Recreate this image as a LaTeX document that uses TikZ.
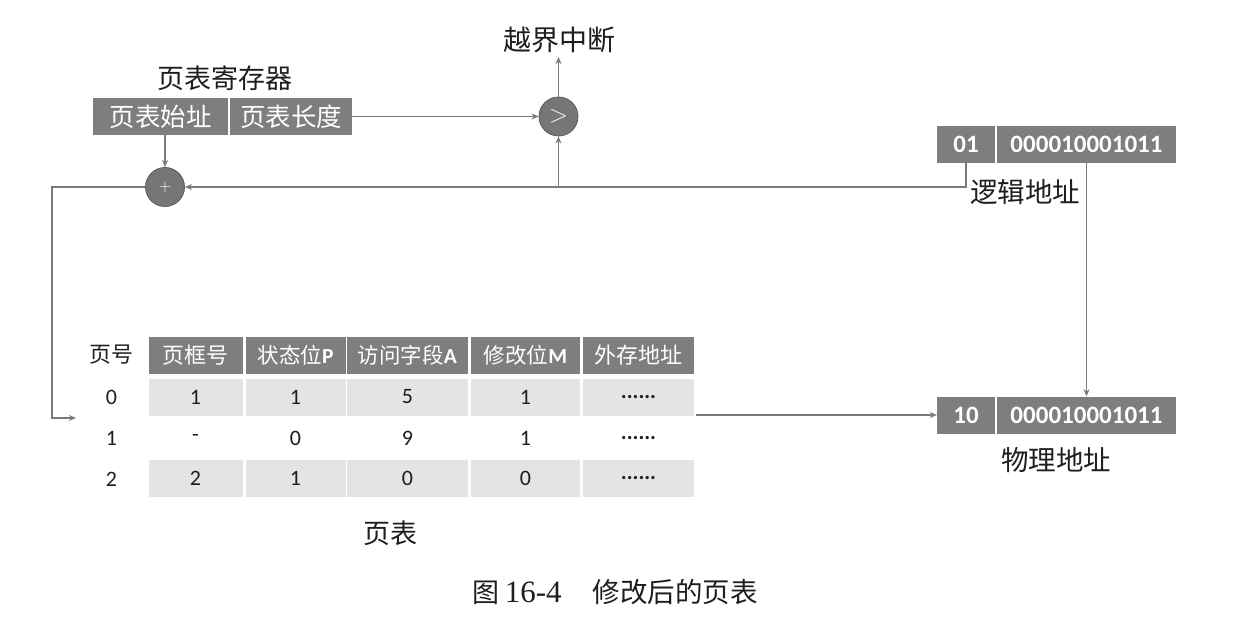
\documentclass[tikz,border=0pt]{standalone}
\usepackage{fontspec}
\setmainfont{Liberation Serif}
\newfontfamily\cjk{Noto Sans CJK SC}
\newfontfamily\calib{Carlito}
\usetikzlibrary{arrows.meta}
\definecolor{boxgray}{HTML}{7E7E7E}
\definecolor{cellgray}{HTML}{E4E4E4}
\definecolor{linegray}{HTML}{7A7A7A}
\definecolor{circgray}{HTML}{767676}
\definecolor{ink}{HTML}{1E1E1E}
\newcommand\cjkat[1]{\cjk\fontsize{#1}{#1}\selectfont}
\newcommand\calat[1]{\calib\fontsize{#1}{#1}\selectfont}
\begin{document}
\begin{tikzpicture}[x=1pt,y=-1pt,
  darkbox/.style={fill=boxgray, draw=none, text=white, minimum height=37pt, inner sep=0pt},
  hdrbox/.style={fill=boxgray, draw=none, text=white, minimum height=37pt, inner sep=0pt},
  cellbox/.style={fill=cellgray, draw=none, text=ink, minimum height=37pt, inner sep=0pt},
  plainbox/.style={draw=none, text=ink, minimum height=37pt, inner sep=0pt},
  opcirc/.style={circle, fill=circgray, draw=gray!70!black, line width=0.8pt, minimum size=39pt, inner sep=0pt, text=white},
  lbl/.style={text=ink, inner sep=0pt},
  conn/.style={draw=linegray, line width=1.4pt},
  arr/.style={conn, -{Stealth[length=7pt,width=6pt]}}
]
\useasboundingbox (0,0) rectangle (1250,619);
\fill[white] (0,0) rectangle (1250,619);

% page table register
\node[lbl] (reglbl) at (225,78) {\cjkat{27}页表寄存器};
\node[darkbox, minimum width=135pt] (base) at (160.5,116.5) {\cjkat{25.5}页表始址};
\node[darkbox, minimum width=122pt] (len) at (291,116.5) {\cjkat{25.5}页表长度};

% comparators
\node[opcirc] (gt) at (558.5,116.5) {\fontsize{26}{26}\selectfont$>$};
\node[opcirc] (plus) at (165,187) {\fontsize{16}{16}\selectfont$+$};
\node[lbl] (intr) at (559,40) {\cjkat{28}越界中断};
\coordinate (intrarr) at (558.5,57);

% logical address
\node[darkbox, minimum width=58pt] (lpage) at (966,144.5) {\calat{25}\bfseries 01};
\node[darkbox, minimum width=179pt] (loff) at (1086.5,144.5) {\calat{25}\bfseries 000010001011};
\node[lbl] (loglbl) at (1025,192) {\cjkat{27.5}逻辑地址};

% physical address
\node[darkbox, minimum width=58pt] (ppage) at (966,415) {\calat{25}\bfseries 10};
\node[darkbox, minimum width=179pt] (poff) at (1086.5,415) {\calat{25}\bfseries 000010001011};
\node[lbl] (physlbl) at (1056,460) {\cjkat{27.5}物理地址};

% page table
\node[lbl] (h0) at (111.5,355) {\cjkat{22}页号};
\node[hdrbox, minimum width=94pt] (h1) at (195.5,355) {\cjkat{22}页框号};
\node[hdrbox, minimum width=100pt] (h2) at (295.5,355) {\cjkat{21.5}状态位\calat{21.5}\bfseries P};
\node[hdrbox, minimum width=121pt] (h3) at (407.5,355) {\cjkat{21.5}访问字段\calat{21.5}\bfseries A};
\node[hdrbox, minimum width=109pt] (h4) at (525.5,355) {\cjkat{21.5}修改位\calat{21.5}\bfseries M};
\node[hdrbox, minimum width=111pt] (h5) at (638.5,355) {\cjkat{22}外存地址};

\node[lbl] (r0c0) at (111.5,397) {\calat{22}0};
\node[cellbox, minimum width=94pt] (r0c1) at (195.5,397) {\calat{22}1};
\node[cellbox, minimum width=100pt] (r0c2) at (295.5,397) {\calat{22}1};
\node[cellbox, minimum width=121pt] (r0c3) at (407.5,397) {\calat{22}5};
\node[cellbox, minimum width=109pt] (r0c4) at (525.5,397) {\calat{22}1};
\node[cellbox, minimum width=111pt] (r0c5) at (638.5,397) {\calat{22}\bfseries ......};

\node[lbl] (r1c0) at (111.5,438) {\calat{22}1};
\node[plainbox, minimum width=94pt] (r1c1) at (195.5,438) {\calat{22}-};
\node[plainbox, minimum width=100pt] (r1c2) at (295.5,438) {\calat{22}0};
\node[plainbox, minimum width=121pt] (r1c3) at (407.5,438) {\calat{22}9};
\node[plainbox, minimum width=109pt] (r1c4) at (525.5,438) {\calat{22}1};
\node[plainbox, minimum width=111pt] (r1c5) at (638.5,438) {\calat{22}\bfseries ......};

\node[lbl] (r2c0) at (111.5,479) {\calat{22}2};
\node[cellbox, minimum width=94pt] (r2c1) at (195.5,478.5) {\calat{22}2};
\node[cellbox, minimum width=100pt] (r2c2) at (295.5,478.5) {\calat{22}1};
\node[cellbox, minimum width=121pt] (r2c3) at (407.5,478.5) {\calat{22}0};
\node[cellbox, minimum width=109pt] (r2c4) at (525.5,478.5) {\calat{22}0};
\node[cellbox, minimum width=111pt] (r2c5) at (638.5,478.5) {\calat{22}\bfseries ......};

\node[lbl] (tbllbl) at (390,533) {\cjkat{27}页表};
\node[lbl] (caption) at (615,592) {\cjkat{27}图\hspace{0.2em}\rmfamily\fontsize{31}{31}\selectfont 16-4\hspace{1em}\cjkat{27.5}修改后的页表};

% connectors
\coordinate (tleft) at (52,418);
\coordinate (tin) at (76,418);
\coordinate (tout) at (696,415);
\coordinate (gtfoot) at (558.5,187);

\draw[arr] (len.east) -- (gt.west);
\draw[arr] (gt.north) -- (intrarr);
\draw[arr] (base.south -| plus) -- (plus.north);
\draw[arr] (lpage.south) |- (plus.east);
\draw[arr] (gtfoot) -- (gt.south);
\draw[arr] (plus.west) -| (tleft) -- (tin);
\draw[arr] (tout) -- (ppage.west);
\draw[arr] (loff.south -| poff.north) -- (poff.north);
\end{tikzpicture}
\end{document}
